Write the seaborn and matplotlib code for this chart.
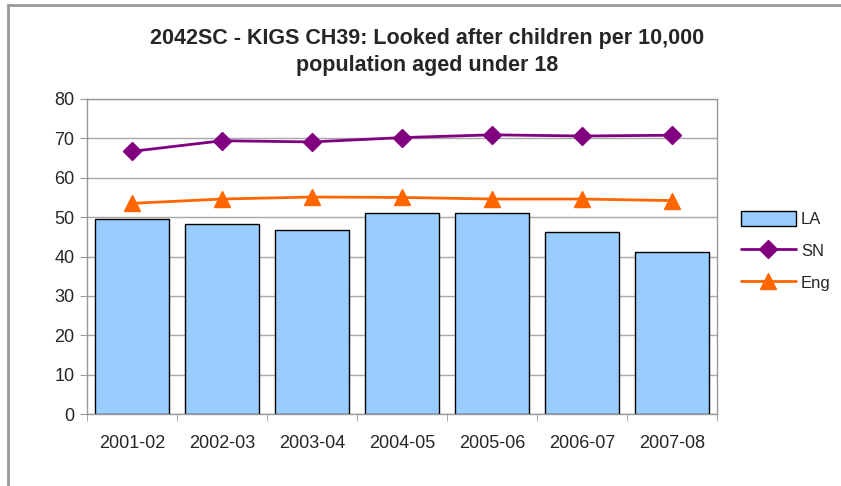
import matplotlib
matplotlib.use('Agg')
import matplotlib.pyplot as plt
import seaborn as sns
import pandas as pd
import numpy as np
from matplotlib.patches import Patch
from matplotlib.lines import Line2D

years = ['2001-02', '2002-03', '2003-04', '2004-05', '2005-06', '2006-07', '2007-08']
la = [49.5, 48.2, 46.7, 51.0, 51.0, 46.2, 41.1]
sn = [66.7, 69.4, 69.1, 70.2, 70.9, 70.6, 70.8]
eng = [53.5, 54.6, 55.1, 55.0, 54.6, 54.6, 54.2]

df = pd.DataFrame({'Year': years, 'LA': la, 'SN': sn, 'Eng': eng})

sns.set_style("white")
plt.rcParams['font.family'] = ['Liberation Sans', 'DejaVu Sans']

fig = plt.figure(figsize=(8.41, 4.86), dpi=100)
ax = fig.add_axes([0.1034, 0.1481, 0.7492, 0.6482])

sns.barplot(data=df, x='Year', y='LA', color='#99CCFF', edgecolor='black',
            linewidth=1.0, width=0.83, saturation=1, ax=ax, zorder=2)
xpos = np.arange(len(years))
ax.plot(xpos, df['SN'], color='#800080', marker='D', markersize=9, lw=2, zorder=3)
ax.plot(xpos, df['Eng'], color='#FF6600', marker='^', markersize=11, lw=2, zorder=3)

ax.set_xlim(-0.5, 6.5)
ax.set_ylim(0, 80)
ax.set_yticks(range(0, 81, 10))
ax.yaxis.grid(True, color='#A8A8A8', lw=1)
ax.set_axisbelow(True)
ax.set_xlabel('')
ax.set_ylabel('')
for s in ax.spines.values():
    s.set_color('#999999')
    s.set_linewidth(1)
    s.set_visible(True)
ax.tick_params(axis='y', which='major', length=5, color='#999999', direction='out',
               labelsize=13, left=True, pad=4)
ax.set_xticks(xpos)
ax.set_xticklabels(years)
ax.tick_params(axis='x', which='major', length=0, labelsize=13, pad=15)
ax.set_xticks(np.arange(-0.5, 7, 1), minor=True)
ax.tick_params(axis='x', which='minor', length=5, color='#999999', direction='out', bottom=True)

fig.text(0.508, 0.921, '2042SC - KIGS CH39: Looked after children per 10,000',
         ha='center', va='center', fontsize=15.5, fontweight='bold')
fig.text(0.508, 0.865, 'population aged under 18',
         ha='center', va='center', fontsize=15.5, fontweight='bold')

handles = [Patch(facecolor='#99CCFF', edgecolor='black', lw=1),
           Line2D([], [], color='#800080', marker='D', markersize=9, lw=2),
           Line2D([], [], color='#FF6600', marker='^', markersize=11, lw=2)]
fig.legend(handles, ['LA', 'SN', 'Eng'], loc='upper left', bbox_to_anchor=(0.873, 0.580),
           frameon=False, fontsize=12, handlelength=3.3, handleheight=1.0,
           labelspacing=0.95, handletextpad=0.3, borderaxespad=0)

# outer frame
fig.add_artist(Line2D([0.0095, 0.0095], [0, 0.99], transform=fig.transFigure,
                      color='#999999', lw=2))
fig.add_artist(Line2D([0.0095, 1], [0.99, 0.99], transform=fig.transFigure,
                      color='#999999', lw=2))

fig.savefig('out.png', dpi=100)
